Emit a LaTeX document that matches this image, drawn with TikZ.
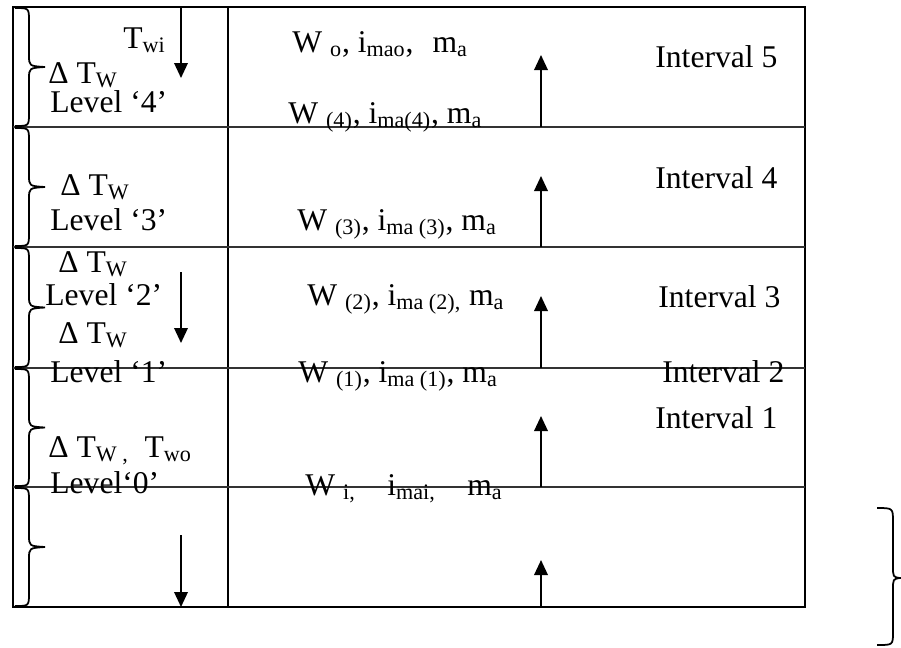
\documentclass[tikz,border=0pt]{standalone}
\usepackage{fontspec}
\setmainfont{Liberation Serif}
\usetikzlibrary{arrows.meta}

\newcommand{\idx}[1]{\textsubscript{#1}}

\begin{document}
\begin{tikzpicture}[
  x=0.02cm, y=-0.02cm,
  >={Triangle[length=0.3cm,width=0.27cm]},
  font=\fontsize{18}{21}\selectfont,
  rule/.style={line width=1.1pt},
  flow/.style={->, line width=1.1pt},
  bracepath/.style={line width=1pt},
  lbl/.style={anchor=base west, inner sep=0pt}
]
\useasboundingbox (0,0) rectangle (901,647);

% table frame and level lines
\draw[rule] (13,7) rectangle (805,607);
\draw[rule] (228,7) -- (228,607);
\foreach \yl in {127,247,368,487}
  \draw[rule,black!80] (13,\yl) -- (805,\yl);

% one brace per band on the left
\foreach \ya/\yb in {7/127,127/247,247/368,368/487,487/607}{
  \pgfmathsetmacro{\ym}{(\ya+\yb)/2}
  \draw[bracepath] (15,\ya+1) .. controls (29,\ya+1) .. (29,\ya+14) -- (29,\ym-12)
    .. controls (29,\ym-1) .. (45,\ym) .. controls (29,\ym+1) .. (29,\ym+12)
    -- (29,\yb-14) .. controls (29,\yb-1) .. (15,\yb-1);
}

% brace at the right, below the table
\draw[bracepath] (877,508) .. controls (893,508) .. (893,522) -- (893,566)
  .. controls (893,577) .. (900,578) .. controls (893,579) .. (893,590)
  -- (893,632) .. controls (893,645) .. (877,645);

% water going down
\coordinate (dnA) at (181,7);   \coordinate (dnAe) at (181,78);
\coordinate (dnB) at (181,272); \coordinate (dnBe) at (181,343);
\coordinate (dnC) at (181,535); \coordinate (dnCe) at (181,607);
\draw[flow] (dnA) -- (dnAe);
\draw[flow] (dnB) -- (dnBe);
\draw[flow] (dnC) -- (dnCe);

% air going up
\foreach \yb/\len [count=\k] in {127/72,247/71,368/72,487/71,607/47}{
  \coordinate (up\k) at (541,\yb);
  \draw[flow] (up\k) -- ++(0,-\len);
}

% left column
\node[lbl] (twi)  at (123,48)  {T\idx{wi}};
\node[lbl] (dtw4) at (48,83)   {Δ T\idx{W}};
\node[lbl] (lev4) at (50,112)  {Level ‘4’};
\node[lbl] (dtw3) at (60,195)  {Δ T\idx{W}};
\node[lbl] (lev3) at (50,230)  {Level ‘3’};
\node[lbl] (dtw2) at (58,272)  {Δ T\idx{W}};
\node[lbl] (lev2) at (45,305)  {Level ‘2’};
\node[lbl] (dtw1) at (58,343)  {Δ T\idx{W}};
\node[lbl] (lev1) at (50,382)  {Level ‘1’};
\node[lbl] (dtw0) at (48,457)  {Δ T\idx{W ,}\enspace T\idx{wo}};
\node[lbl] (lev0) at (50,493)  {Level‘0’};

% air states
\node[lbl] (airo) at (292,52)  {W \idx{o}, i\idx{mao},\hspace{0.6em}m\idx{a}};
\node[lbl] (air4) at (288,123) {W \idx{(4)}, i\idx{ma(4)}, m\idx{a}};
\node[lbl] (air3) at (297,230) {W \idx{(3)}, i\idx{ma (3)}, m\idx{a}};
\node[lbl] (air2) at (307,305) {W \idx{(2)}, i\idx{ma (2),} m\idx{a}};
\node[lbl] (air1) at (298,382) {W \idx{(1)}, i\idx{ma (1)}, m\idx{a}};
\node[lbl] (airi) at (305,495) {W \idx{i,}\quad i\idx{mai,}\quad m\idx{a}};

% intervals
\node[lbl] (int5) at (655,67)  {Interval 5};
\node[lbl] (int4) at (655,188) {Interval 4};
\node[lbl] (int3) at (658,307) {Interval 3};
\node[lbl] (int2) at (662,382) {Interval 2};
\node[lbl] (int1) at (655,428) {Interval 1};
\end{tikzpicture}
\end{document}
